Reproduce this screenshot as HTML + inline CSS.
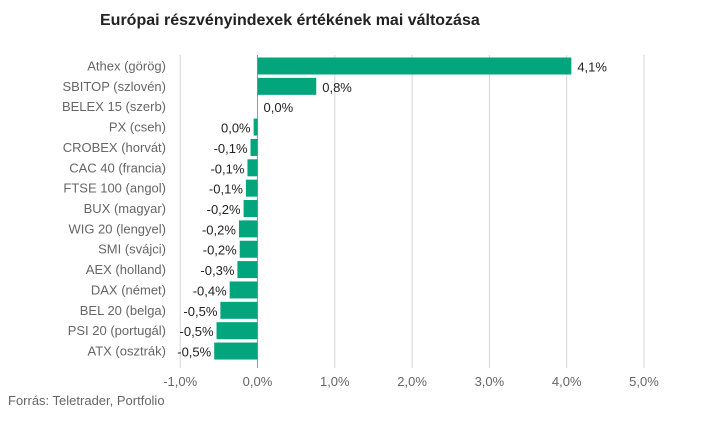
<!DOCTYPE html>
<html><head><meta charset="utf-8"><style>
body{margin:0;background:#fff;font-family:"Liberation Sans",sans-serif;}
svg text{font-family:"Liberation Sans",sans-serif;}
</style></head><body>
<svg width="723" height="416" xmlns="http://www.w3.org/2000/svg">
<text x="100" y="25" font-size="16" font-weight="bold" fill="#222">Európai részvényindexek értékének mai változása</text>
<g id="grid"></g><g id="bars"></g>
<text x="8" y="405" font-size="13" fill="#666">Forrás: Teletrader, Portfolio</text>
</svg>
<script>
const categories=["Athex (görög)","SBITOP (szlovén)","BELEX 15 (szerb)","PX (cseh)","CROBEX (horvát)","CAC 40 (francia)","FTSE 100 (angol)","BUX (magyar)","WIG 20 (lengyel)","SMI (svájci)","AEX (holland)","DAX (német)","BEL 20 (belga)","PSI 20 (portugál)","ATX (osztrák)"];
const values=[4.06,0.76,0.0,-0.05,-0.09,-0.13,-0.15,-0.18,-0.24,-0.23,-0.26,-0.36,-0.48,-0.53,-0.56];
const labels=["4,1%","0,8%","0,0%","0,0%","-0,1%","-0,1%","-0,1%","-0,2%","-0,2%","-0,2%","-0,3%","-0,4%","-0,5%","-0,5%","-0,5%"];
const ticks=[-1,0,1,2,3,4,5];
const tickLabels=["-1,0%","0,0%","1,0%","2,0%","3,0%","4,0%","5,0%"];
const NS="http://www.w3.org/2000/svg";
const x=v=>257.5+v*77.3;
const y=i=>57.5+i*20.36;
function mk(t,a,p){const e=document.createElementNS(NS,t);for(const k in a)e.setAttribute(k,a[k]);p.appendChild(e);return e;}
const g=document.getElementById('grid'),b=document.getElementById('bars');
ticks.forEach((t,i)=>{
 const l=mk('line',{x1:x(t),x2:x(t),y1:55,y2:368,stroke:t===0?'#999':'#d6d6d6','stroke-width':1},g);
 
 
 const tx=mk('text',{x:x(t),y:386,'font-size':13,fill:'#666','text-anchor':'middle'},g);
 tx.textContent=tickLabels[i];
 
 
});
categories.forEach((c,i)=>{
 const v=values[i];
 const r=mk('rect',{x:Math.min(x(0),x(v)),y:y(i),width:Math.max(Math.abs(x(v)-x(0)),0.01),height:17,fill:'#03a57d'},b);
 
 
 const ct=mk('text',{x:166,y:y(i)+13,'font-size':13,fill:'#666','text-anchor':'end'},b);
 ct.textContent=c;
 
 
 const pos=v>0||(v===0&&i<3);
 const vt=mk('text',{x:pos?x(v)+6:x(v)-3,y:y(i)+14,'font-size':13,fill:'#222','text-anchor':pos?'start':'end'},b);
 vt.textContent=labels[i];
 
 
});
</script>
</body></html>
